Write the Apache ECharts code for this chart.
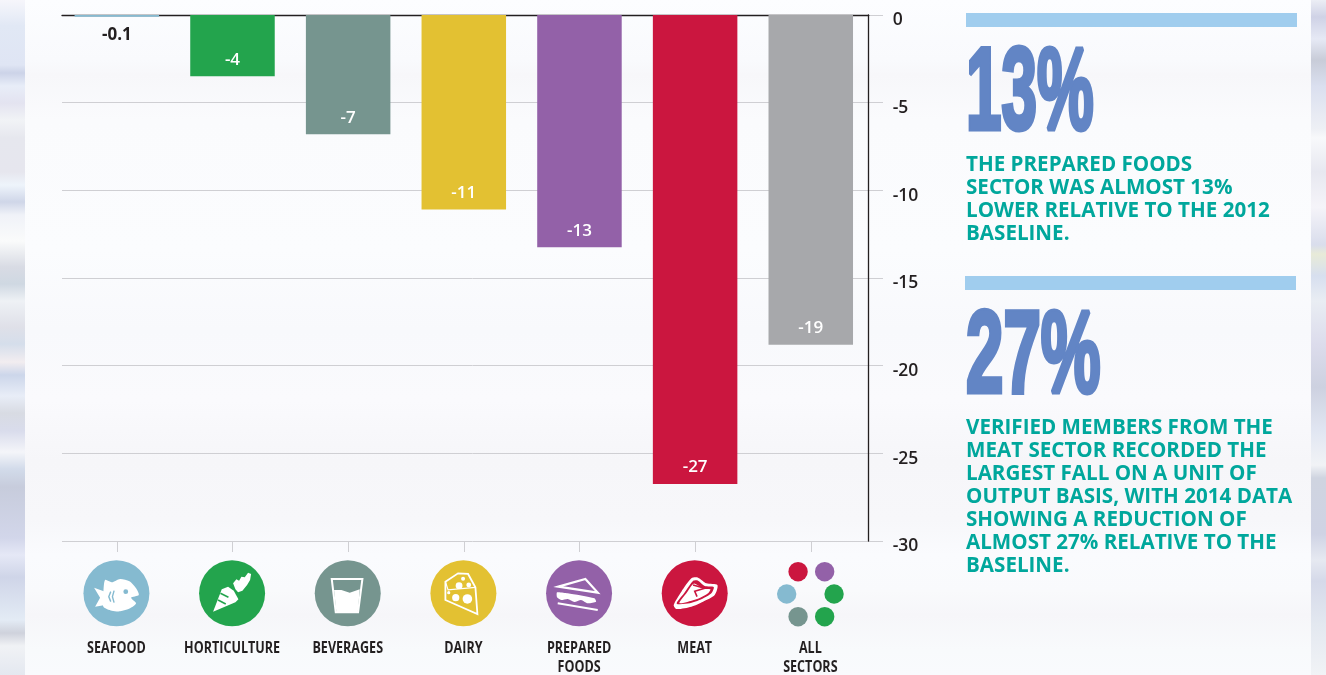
<!DOCTYPE html>
<html><head><meta charset="utf-8">
<style>
html,body{margin:0;padding:0;width:1326px;height:675px;overflow:hidden}
body{background:
 linear-gradient(180deg,#f6f6fb 0,#e1e8f5 26px,#dfe5f4 65px,#ccd3e8 73px,#e8edf8 86px,#e3e3f0 103px,#f1f3f6 120px,#e6e7ee 138px,#e6e6ee 172px,#eef4fb 185px,#cfd6e8 202px,#f0f2f8 215px,#fafbfb 241px,#d8dbe4 267px,#cfd8e2 284px,#eef1f5 301px,#dfe0e8 327px,#d5deeb 344px,#f2edf0 362px,#ccd6ea 375px,#e8edf7 396px,#d8dbe3 413px,#d9dcec 431px,#f4f5f9 452px,#d2dbea 469px,#c7ccdc 487px,#d2d6ea 538px,#e5e8f6 555px,#cfd5e8 577px,#e3ebf5 620px,#cfd2dc 633px,#f0f2f5 646px,#e4e8f0 675px) 0 0/25px 675px no-repeat,
 linear-gradient(180deg,#eceef5 0,#cfd2e6 17px,#e6e9f5 39px,#c8ccd8 60px,#dadfef 86px,#eef0f5 129px,#f8f9fb 138px,#e7e8f0 172px,#f5f4f9 207px,#d9ddec 245px,#e8ebd8 254px,#d7dfef 276px,#e9edf3 301px,#dcdcec 344px,#cdd1e0 387px,#e1e6f2 431px,#f1f3f6 465px,#cfd4e0 478px,#cfd3e4 534px,#e6e9f1 560px,#d5d9e9 581px,#e3e8f0 624px,#f1f3f6 675px) 1311px 0/15px 675px no-repeat,
 linear-gradient(180deg,#fcfdff 0,#f9fafd 60px,#f7f7fa 75px,#fafbfd 120px,#fbfcfe 250px,#f8f9fc 330px,#fafafd 400px,#f6f6f9 460px,#f7f7fa 520px,#fafbfe 555px,#f9fafc 590px,#f6f6f9 615px,#f8fafc 650px,#f9fafd 675px)}
#c{width:1326px;height:675px}
</style></head><body><div id="c"></div>
<script src="https://cdn.jsdelivr.net/npm/echarts@6/dist/echarts.min.js"></script>
<script>
const categories = ['SEAFOOD','HORTICULTURE','BEVERAGES','DAIRY','PREPARED\nFOODS','MEAT','ALL\nSECTORS'];
const values = [-0.1,-3.5,-6.8,-11.1,-13.25,-26.75,-18.8];
const barLabels = ['-0.1','-4','-7','-11','-13','-27','-19'];
const barColors = ['#85bad0','#23a44d','#76958f','#e3c132','#9361a8','#cb163f','#a7a8ab'];
const yTicks = [0,-5,-10,-15,-20,-25,-30];

const W='#ffffff';
const pts=(a,c)=>a.map(p=>[(p[0]-c)/3,(p[1]-130)/3]);
const poly=(a,c,fill,smooth)=>({type:'polygon',shape:{points:pts(a,c),smooth:smooth||0},style:{fill:fill||W}});
const outl=(a,c,w)=>({type:'polygon',shape:{points:pts(a,c)},style:{fill:'none',stroke:W,lineWidth:w||2}});
const line=(a,c,col,w)=>({type:'polyline',shape:{points:pts(a,c)},style:{fill:'none',stroke:col||W,lineWidth:w||2}});
const dot=(x,y,c,r,col)=>({type:'circle',shape:{cx:(x-c)/3,cy:(y-130)/3,r:r},style:{fill:col||W}});
const glyphs=[
 [poly([[100,125],[105,90],[125,97],[150,87],[178,94],[198,115],[206,135],[183,143],[198,160],[180,175],[150,184],[125,182],[100,170],[100,140]],139,W,0.25),
  poly([[72,113],[105,125],[105,165],[75,170],[90,143]],139),
  dot(167,125,139,2.4,barColors[0]),line([[122,125],[116,140],[122,155]],139,barColors[0],1.4),line([[132,122],[127,140],[132,158]],139,barColors[0],1.4)],
 [poly([[430,185],[456,118],[475,110],[492,122],[506,148],[497,157]],487),
  line([[452,130],[476,142]],487,barColors[1],1.6),line([[445,150],[468,162]],487,barColors[1],1.6),
  poly([[497,118],[490,100],[500,88],[508,92],[515,80],[525,82],[535,68],[544,72],[541,90],[532,105],[518,122],[505,127]],487)],
 [outl([[96,87],[188,87],[175,187],[108,187]],144,2),
  poly([[103,120],[125,120],[150,128],[180,118],[174,187],[110,187]],144)],
 [outl([[437,95],[475,70],[505,72],[527,112],[533,192],[437,150]],491,1.8),
  line([[437,95],[445,120],[527,112]],491,W,1.2),
  dot(478,107,491,3.4),dot(507,105,491,2.4),dot(468,143,491,3.6),dot(503,147,491,4.8),dot(490,86,491,2),dot(447,128,491,1.6)],
 [outl([[72,110],[153,87],[190,128]],134,2.2),
  poly([[68,127],[100,130],[180,145],[185,155],[160,160],[140,150],[120,156],[100,147],[80,150],[68,142]],134,W,0.2),
  line([[70,160],[190,180]],134,W,2)],
 [poly([[417,165],[440,125],[470,85],[490,83],[515,100],[548,105],[540,135],[505,155],[470,170],[425,177]],480,W,0.25),
  poly([[426,161],[448,130],[475,93],[490,92],[510,108],[537,111],[530,130],[500,148],[465,160]],480,barColors[5],0.25),
  poly([[434,159],[455,130],[477,101],[505,116],[527,118],[520,130],[495,144],[460,155]],480,W,0.25),
  line([[475,105],[510,115],[480,124],[487,140]],480,barColors[5],1.6)],
 []
];
const allShapes=[[-12.3,-21.6,5],[14.3,-21.6,4],[-23.7,0.7,0],[23.7,0.7,1],[-12.3,23.4,2],[14.3,23.4,1]]
  .map(d=>({type:'circle',shape:{cx:d[0],cy:d[1],r:9.7},style:{fill:barColors[d[2]]}}));

const paraFont='bold 20.6px "Open Sans"';
const para=(t,x,y)=>({type:'text',x:x,y:y,style:{text:t,font:paraFont,fill:'#00a79c',lineHeight:23,textVerticalAlign:'top'}});
const big=(t,x,y,sx)=>({type:'text',x:x,y:y,scaleX:sx,style:{text:t,font:'bold 116px "Liberation Sans"',fill:'#6285c5',stroke:'#6285c5',lineWidth:5,lineJoin:'miter',textVerticalAlign:'top'}});

const chart=echarts.init(document.getElementById('c'),null,{renderer:'canvas'});
const barTop=15, barH=526;
chart.setOption({
 animation:false,
 backgroundColor:'transparent',
 grid:[
  {left:59,width:809.6,top:barTop,height:barH},
  {left:62,width:821,top:barTop,height:barH},
  {left:62,width:806.7,top:barTop,height:barH},
  {left:58.6,width:809.6,top:560,height:66.6}
 ],
 xAxis:[
  {gridIndex:0,type:'category',data:categories,position:'bottom',
   axisLine:{show:false,onZero:false},axisTick:{show:true,interval:0,alignWithLabel:true,length:11,lineStyle:{color:'#cfcfd3',width:1}},
   axisLabel:{show:false,interval:0},splitLine:{show:false}},
  {gridIndex:1,type:'value',min:0,max:1,show:false},
  {gridIndex:2,type:'value',min:0,max:1,position:'top',
   axisLine:{show:true,onZero:false,lineStyle:{color:'#231f20',width:1.3}},axisTick:{show:false},axisLabel:{show:false},splitLine:{show:false}},
  {gridIndex:3,type:'category',data:categories,show:false}
 ],
 yAxis:[
  {gridIndex:0,type:'value',min:-30,max:0,show:false},
  {gridIndex:1,type:'value',min:-30,max:0,interval:5,axisLine:{show:false},axisTick:{show:false},axisLabel:{show:false},
   splitLine:{show:true,lineStyle:{color:'#cfcfd3',width:1}}},
  {gridIndex:2,type:'value',min:-30,max:0,interval:5,position:'right',
   axisLine:{show:true,onZero:false,lineStyle:{color:'#231f20',width:1.3}},axisTick:{show:false},splitLine:{show:false},
   axisLabel:{margin:24,align:'left',verticalAlign:'top',lineHeight:11,fontFamily:'"Open Sans"',fontWeight:600,fontSize:17.5,color:'#231f20',
     formatter:v=>yTicks.includes(v)?String(v):''}},
  {gridIndex:3,type:'value',min:0,max:1,show:false}
 ],
 series:[
  {type:'bar',xAxisIndex:0,yAxisIndex:0,barWidth:84.5,z:3,
   data:values.map((v,i)=>({value:v,itemStyle:{color:barColors[i]},
     label:i===0
      ?{show:true,position:'bottom',distance:10,formatter:barLabels[i],color:'#231f20',fontFamily:'"Open Sans"',fontWeight:700,fontSize:17}
      :{show:true,position:'insideBottom',distance:8,formatter:barLabels[i],color:'#ffffff',fontFamily:'"Open Sans"',fontWeight:600,fontSize:17}}))},
  {type:'custom',xAxisIndex:3,yAxisIndex:3,z:4,clip:false,silent:true,
   data:categories.map((c,i)=>[i,0.5]),
   renderItem:(params,api)=>{
     const i=params.dataIndex, xy=api.coord([api.value(0),api.value(1)]);
     const icon=i===6?allShapes:[{type:'circle',shape:{cx:0,cy:0,r:33},style:{fill:barColors[i]}}].concat(glyphs[i]);
     const label={type:'text',x:0,y:46,scaleX:0.81,style:{text:categories[i],font:'bold 15.5px "Open Sans"',fill:'#231f20',align:'center',verticalAlign:'top',lineHeight:19}};
     return {type:'group',x:xy[0],y:xy[1],children:icon.concat([label])};
   }}
 ],
 graphic:[
  {type:'rect',shape:{x:966,y:13,width:331,height:14},style:{fill:'#a0cdee'}},
  {type:'rect',shape:{x:965,y:276,width:331,height:14},style:{fill:'#a0cdee'}},
  big('13%',966,39,0.55),
  big('27%',966,302,0.58),
  para('THE PREPARED FOODS\nSECTOR WAS ALMOST 13%\nLOWER RELATIVE TO THE 2012\nBASELINE.',966,154),
  para('VERIFIED MEMBERS FROM THE\nMEAT SECTOR RECORDED THE\nLARGEST FALL ON A UNIT OF\nOUTPUT BASIS, WITH 2014 DATA\nSHOWING A REDUCTION OF\nALMOST 27% RELATIVE TO THE\nBASELINE.',966,417)
 ]
});
</script></body></html>
